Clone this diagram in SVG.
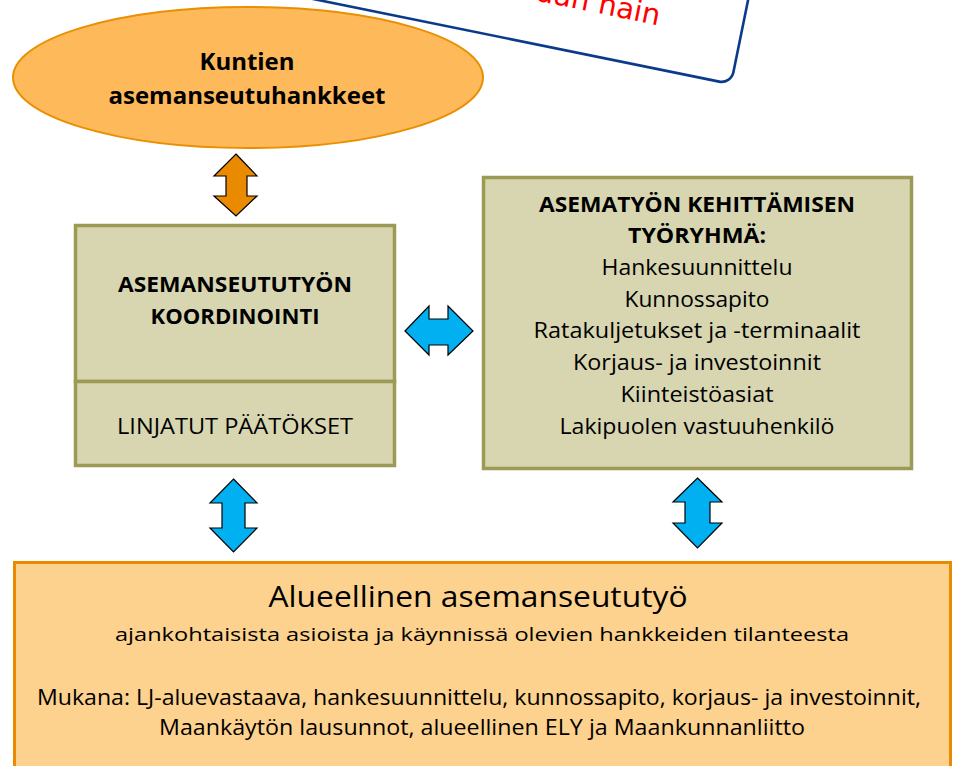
<svg xmlns="http://www.w3.org/2000/svg" width="953" height="766" viewBox="0 0 953 766">
<style>
  .t { font-family: "Open Sans", Lato, "Liberation Sans", sans-serif; fill: #000; text-anchor: middle; }
  .b { font-weight: bold; }
  .olive { fill: #D7D6B0; stroke: #9C9A55; stroke-width: 3.5; }
  .blue { fill: #00B0F0; stroke: #000; stroke-width: 1.2; stroke-linejoin: miter; }
  .orange { fill: #E98A00; stroke: #000; stroke-width: 1.2; stroke-linejoin: miter; }
</style>
<rect width="953" height="766" fill="#fff"/>

<g id="node-note" transform="translate(731,84) rotate(11.5)">
  <rect x="-450" y="-150" width="450" height="150" rx="12" fill="#fff" stroke="#0B3A8A" stroke-width="2.6"/>
  <text x="-83" y="-43" text-anchor="end" font-family="'DejaVu Sans', sans-serif" font-size="29" fill="#FF0000">uan näin</text>
</g>

<g id="node-municipal">
  <ellipse cx="248" cy="77.5" rx="235" ry="70.5" fill="#FDB95A" stroke="#E98F00" stroke-width="2"/>
  <text class="t b" x="247" y="70" font-size="24" textLength="95" lengthAdjust="spacingAndGlyphs">Kuntien</text>
  <text class="t b" x="247" y="104" font-size="24" textLength="277" lengthAdjust="spacingAndGlyphs">asemanseutuhankkeet</text>
</g>

<g id="node-coordination">
  <rect class="olive" x="75.5" y="225.5" width="319" height="156"/>
  <rect class="olive" x="75.5" y="381.5" width="319" height="84"/>
  <text class="t b" x="235" y="292" font-size="21.5" textLength="234" lengthAdjust="spacingAndGlyphs">ASEMANSEUTUTYÖN</text>
  <text class="t b" x="235" y="324" font-size="21.5" textLength="169" lengthAdjust="spacingAndGlyphs">KOORDINOINTI</text>
  <text class="t" x="235" y="434" font-size="22" textLength="236" lengthAdjust="spacingAndGlyphs">LINJATUT PÄÄTÖKSET</text>
</g>

<g id="node-workgroup">
  <rect class="olive" x="483.5" y="177.5" width="428" height="291"/>
  <text class="t b" x="697" y="212" font-size="22" textLength="316" lengthAdjust="spacingAndGlyphs">ASEMATYÖN KEHITTÄMISEN</text>
  <text class="t b" x="697" y="243" font-size="22" textLength="138" lengthAdjust="spacingAndGlyphs">TYÖRYHMÄ:</text>
  <text class="t" x="697" y="275" font-size="21" textLength="191" lengthAdjust="spacingAndGlyphs">Hankesuunnittelu</text>
  <text class="t" x="697" y="307" font-size="21" textLength="145" lengthAdjust="spacingAndGlyphs">Kunnossapito</text>
  <text class="t" x="697" y="338" font-size="21" textLength="327" lengthAdjust="spacingAndGlyphs">Ratakuljetukset ja -terminaalit</text>
  <text class="t" x="697" y="370" font-size="21" textLength="248" lengthAdjust="spacingAndGlyphs">Korjaus- ja investoinnit</text>
  <text class="t" x="697" y="402" font-size="21" textLength="153" lengthAdjust="spacingAndGlyphs">Kiinteistöasiat</text>
  <text class="t" x="697" y="434" font-size="21" textLength="275" lengthAdjust="spacingAndGlyphs">Lakipuolen vastuuhenkilö</text>
</g>

<g id="node-regional">
  <rect x="14.5" y="562.5" width="936" height="210" fill="#FDD28E" stroke="#E98A00" stroke-width="3"/>
  <text class="t" x="478" y="607" font-size="29.5" textLength="419" lengthAdjust="spacingAndGlyphs">Alueellinen asemanseututyö</text>
  <text class="t" x="482" y="641" font-size="19" textLength="734" lengthAdjust="spacingAndGlyphs">ajankohtaisista asioista ja käynnissä olevien hankkeiden tilanteesta</text>
  <text class="t" x="479" y="705" font-size="21" textLength="884" lengthAdjust="spacingAndGlyphs">Mukana: LJ-aluevastaava, hankesuunnittelu, kunnossapito, korjaus- ja investoinnit,</text>
  <text class="t" x="482" y="735" font-size="21" textLength="646" lengthAdjust="spacingAndGlyphs">Maankäytön lausunnot, alueellinen ELY ja Maankunnanliitto</text>
</g>

<g id="connectors">
  <polygon class="orange" points="236,154 257,176 247,176 247,196 257,196 236,216 214,196 226,196 226,176 214,176"/>
  <polygon class="blue" points="405,331 429,306 429,319 448,319 448,306 473,331 448,355 448,345 429,345 429,355"/>
  <polygon class="blue" points="233.5,479 257,503 245,503 245,528 257,528 233.5,552 210,528 222,528 222,503 210,503"/>
  <polygon class="blue" points="697.5,478 722,502 710,502 710,523 722,523 697.5,548 673,523 685,523 685,502 673,502"/>
</g>
</svg>
